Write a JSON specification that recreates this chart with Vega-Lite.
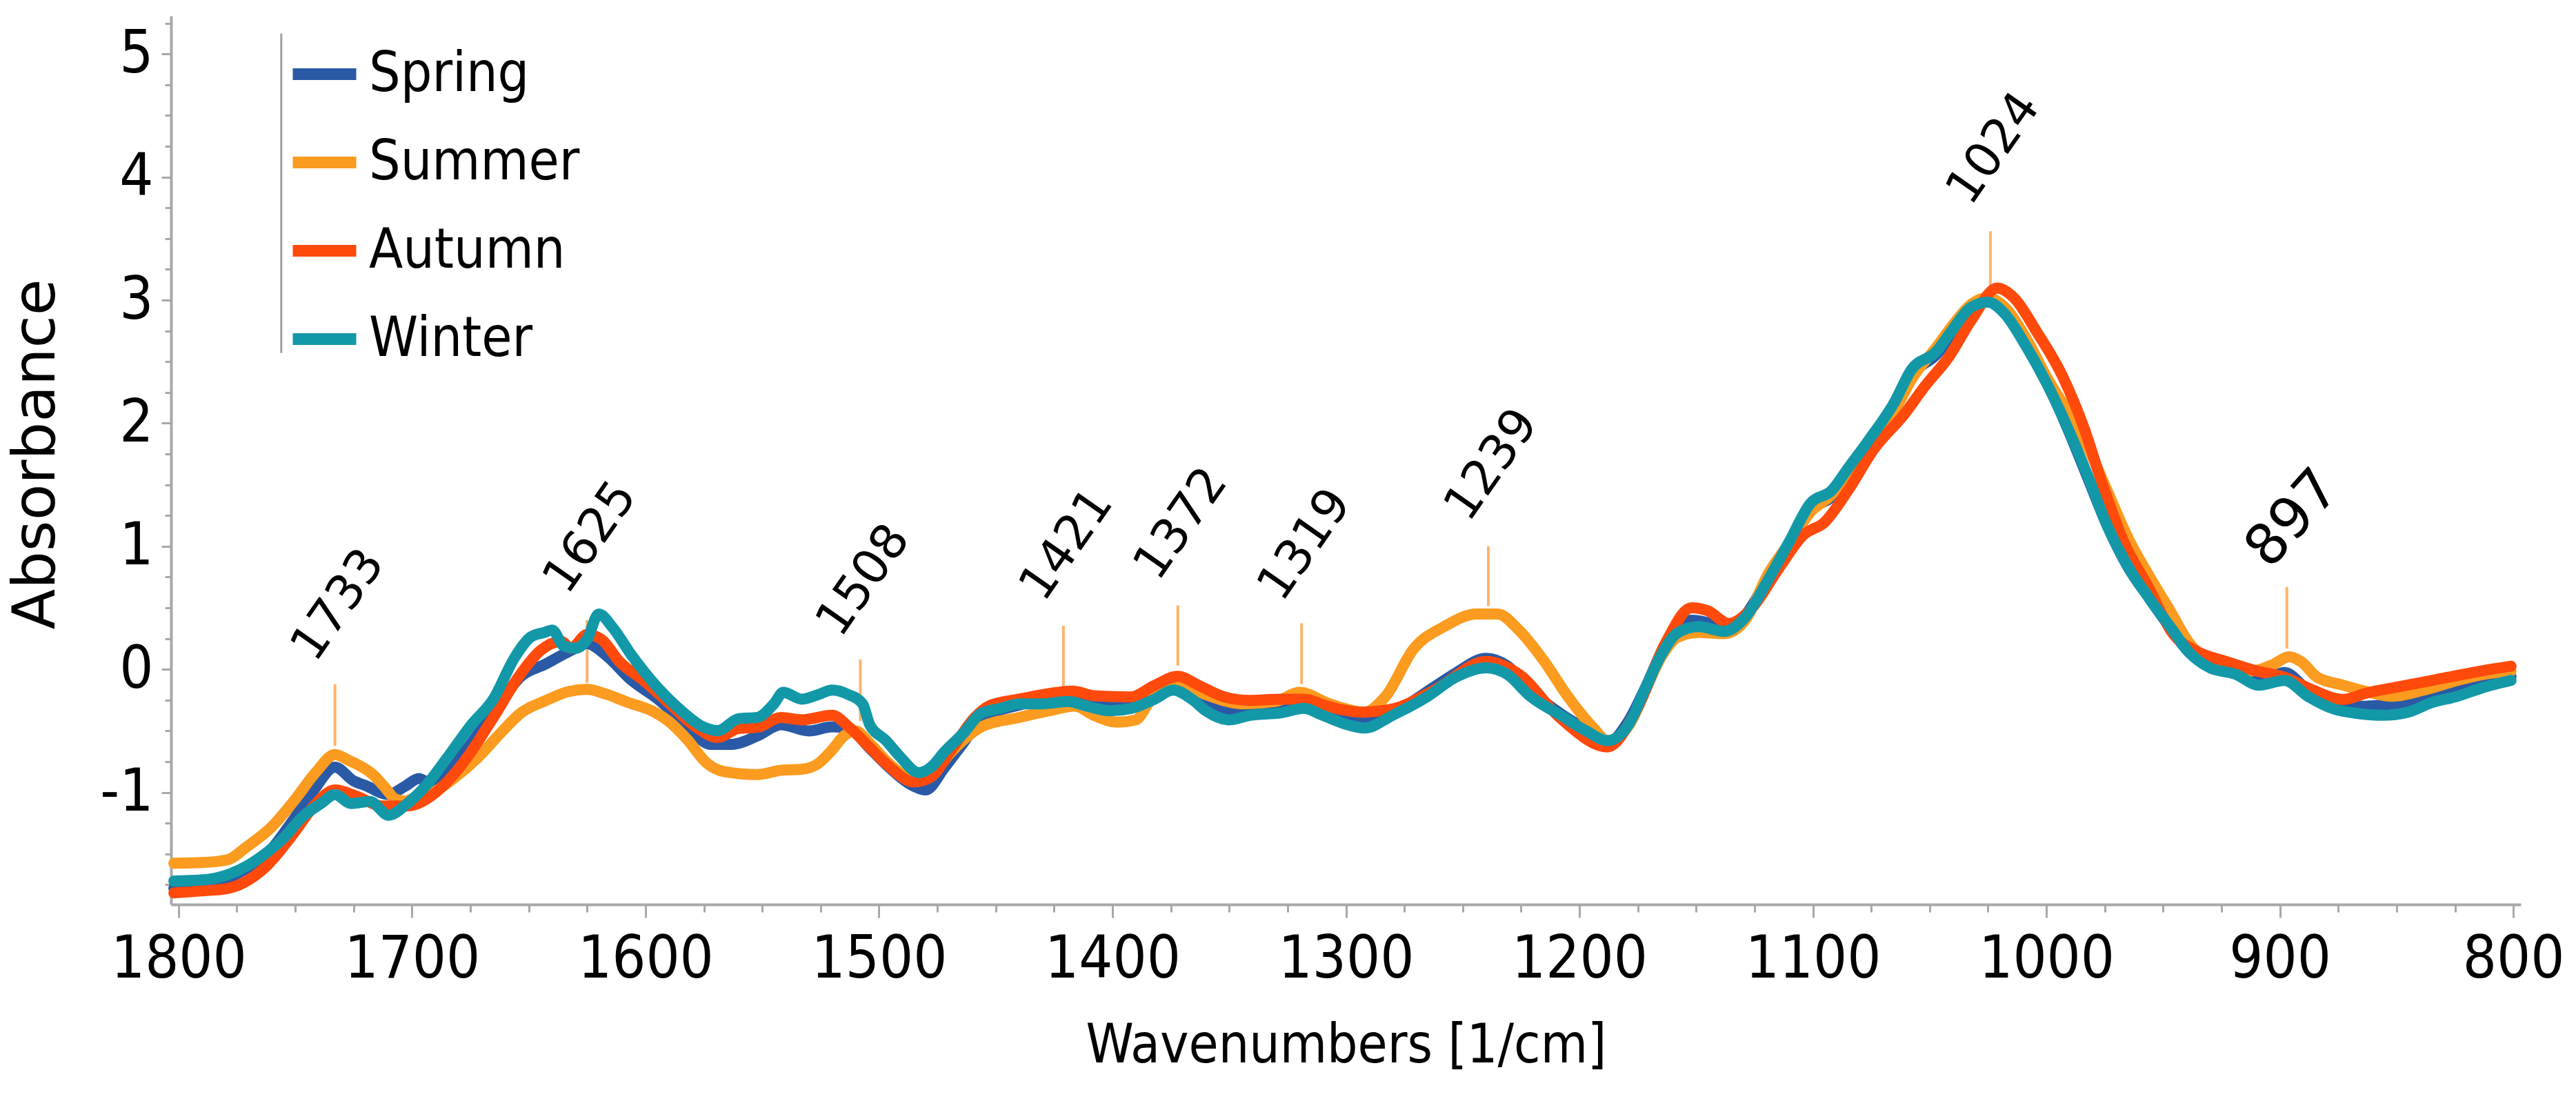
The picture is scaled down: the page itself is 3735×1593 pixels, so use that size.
{
  "$schema": "https://vega.github.io/schema/vega-lite/v6.json",
  "width": 3407,
  "height": 1288,
  "autosize": "none",
  "padding": {"left": 248, "top": 23, "right": 80, "bottom": 282},
  "background": "white",
  "datasets": {
    "spectra": [
      {"season":"Spring","wn":1802,"abs":-1.78},{"season":"Spring","wn":1787,"abs":-1.76},{"season":"Spring","wn":1774,"abs":-1.65},{"season":"Spring","wn":1763,"abs":-1.52},{"season":"Spring","wn":1750,"abs":-1.2},{"season":"Spring","wn":1742,"abs":-0.98},{"season":"Spring","wn":1733,"abs":-0.795},{"season":"Spring","wn":1725,"abs":-0.906},{"season":"Spring","wn":1720,"abs":-0.943},{"season":"Spring","wn":1710,"abs":-1.017},{"season":"Spring","wn":1703,"abs":-0.95},{"season":"Spring","wn":1697,"abs":-0.887},{"season":"Spring","wn":1691,"abs":-0.943},{"season":"Spring","wn":1678,"abs":-0.683},{"season":"Spring","wn":1665,"abs":-0.348},{"season":"Spring","wn":1653,"abs":-0.051},{"season":"Spring","wn":1643,"abs":0.041},{"season":"Spring","wn":1632,"abs":0.153},{"season":"Spring","wn":1625,"abs":0.209},{"season":"Spring","wn":1617,"abs":0.116},{"season":"Spring","wn":1606,"abs":-0.088},{"season":"Spring","wn":1595,"abs":-0.237},{"season":"Spring","wn":1584,"abs":-0.423},{"season":"Spring","wn":1572,"abs":-0.609},{"season":"Spring","wn":1563,"abs":-0.609},{"season":"Spring","wn":1552,"abs":-0.54},{"season":"Spring","wn":1542,"abs":-0.45},{"season":"Spring","wn":1530,"abs":-0.5},{"season":"Spring","wn":1520,"abs":-0.466},{"season":"Spring","wn":1513,"abs":-0.48},{"season":"Spring","wn":1504,"abs":-0.64},{"season":"Spring","wn":1496,"abs":-0.79},{"season":"Spring","wn":1485,"abs":-0.95},{"season":"Spring","wn":1480,"abs":-0.98},{"season":"Spring","wn":1472,"abs":-0.8},{"season":"Spring","wn":1464,"abs":-0.6},{"season":"Spring","wn":1456,"abs":-0.4},{"season":"Spring","wn":1440,"abs":-0.29},{"season":"Spring","wn":1430,"abs":-0.25},{"season":"Spring","wn":1419,"abs":-0.24},{"season":"Spring","wn":1408,"abs":-0.27},{"season":"Spring","wn":1392,"abs":-0.29},{"season":"Spring","wn":1382,"abs":-0.2},{"season":"Spring","wn":1372,"abs":-0.12},{"season":"Spring","wn":1363,"abs":-0.2},{"season":"Spring","wn":1350,"abs":-0.33},{"season":"Spring","wn":1341,"abs":-0.33},{"season":"Spring","wn":1328,"abs":-0.3},{"season":"Spring","wn":1318,"abs":-0.29},{"season":"Spring","wn":1308,"abs":-0.35},{"season":"Spring","wn":1294,"abs":-0.42},{"season":"Spring","wn":1280,"abs":-0.35},{"season":"Spring","wn":1262,"abs":-0.14},{"season":"Spring","wn":1253,"abs":-0.03},{"season":"Spring","wn":1240,"abs":0.09},{"season":"Spring","wn":1231,"abs":0.03},{"season":"Spring","wn":1221,"abs":-0.17},{"season":"Spring","wn":1208,"abs":-0.36},{"season":"Spring","wn":1197,"abs":-0.49},{"season":"Spring","wn":1188,"abs":-0.6},{"season":"Spring","wn":1179,"abs":-0.42},{"season":"Spring","wn":1172,"abs":-0.16},{"season":"Spring","wn":1165,"abs":0.13},{"season":"Spring","wn":1158,"abs":0.32},{"season":"Spring","wn":1152,"abs":0.4},{"season":"Spring","wn":1145,"abs":0.38},{"season":"Spring","wn":1138,"abs":0.33},{"season":"Spring","wn":1129,"abs":0.44},{"season":"Spring","wn":1119,"abs":0.75},{"season":"Spring","wn":1110,"abs":1.02},{"season":"Spring","wn":1101,"abs":1.3},{"season":"Spring","wn":1092,"abs":1.4},{"season":"Spring","wn":1085,"abs":1.58},{"season":"Spring","wn":1076,"abs":1.82},{"season":"Spring","wn":1065,"abs":2.12},{"season":"Spring","wn":1058,"abs":2.38},{"season":"Spring","wn":1047,"abs":2.56},{"season":"Spring","wn":1041,"abs":2.7},{"season":"Spring","wn":1032,"abs":2.92},{"season":"Spring","wn":1025,"abs":3.0},{"season":"Spring","wn":1018,"abs":2.92},{"season":"Spring","wn":1009,"abs":2.66},{"season":"Spring","wn":1000,"abs":2.34},{"season":"Spring","wn":991,"abs":1.96},{"season":"Spring","wn":983,"abs":1.59},{"season":"Spring","wn":974,"abs":1.17},{"season":"Spring","wn":965,"abs":0.83},{"season":"Spring","wn":956,"abs":0.58},{"season":"Spring","wn":947,"abs":0.34},{"season":"Spring","wn":939,"abs":0.14},{"season":"Spring","wn":930,"abs":0.02},{"season":"Spring","wn":919,"abs":-0.03},{"season":"Spring","wn":909,"abs":-0.1},{"season":"Spring","wn":898,"abs":-0.025},{"season":"Spring","wn":888,"abs":-0.17},{"season":"Spring","wn":877,"abs":-0.28},{"season":"Spring","wn":866,"abs":-0.3},{"season":"Spring","wn":856,"abs":-0.29},{"season":"Spring","wn":845,"abs":-0.26},{"season":"Spring","wn":835,"abs":-0.2},{"season":"Spring","wn":824,"abs":-0.15},{"season":"Spring","wn":814,"abs":-0.1},{"season":"Spring","wn":801,"abs":-0.06},

      {"season":"Summer","wn":1802,"abs":-1.575},{"season":"Summer","wn":1790,"abs":-1.57},{"season":"Summer","wn":1779,"abs":-1.547},{"season":"Summer","wn":1771,"abs":-1.445},{"season":"Summer","wn":1760,"abs":-1.278},{"season":"Summer","wn":1750,"abs":-1.055},{"season":"Summer","wn":1741,"abs":-0.832},{"season":"Summer","wn":1733,"abs":-0.692},{"season":"Summer","wn":1727,"abs":-0.74},{"season":"Summer","wn":1723,"abs":-0.776},{"season":"Summer","wn":1717,"abs":-0.85},{"season":"Summer","wn":1712,"abs":-0.95},{"season":"Summer","wn":1707,"abs":-1.055},{"season":"Summer","wn":1703,"abs":-1.07},{"season":"Summer","wn":1699,"abs":-1.045},{"season":"Summer","wn":1691,"abs":-0.999},{"season":"Summer","wn":1681,"abs":-0.869},{"season":"Summer","wn":1672,"abs":-0.72},{"season":"Summer","wn":1662,"abs":-0.516},{"season":"Summer","wn":1653,"abs":-0.349},{"season":"Summer","wn":1643,"abs":-0.256},{"season":"Summer","wn":1633,"abs":-0.181},{"season":"Summer","wn":1625,"abs":-0.163},{"season":"Summer","wn":1617,"abs":-0.2},{"season":"Summer","wn":1608,"abs":-0.265},{"season":"Summer","wn":1596,"abs":-0.349},{"season":"Summer","wn":1590,"abs":-0.423},{"season":"Summer","wn":1582,"abs":-0.572},{"season":"Summer","wn":1574,"abs":-0.757},{"season":"Summer","wn":1566,"abs":-0.832},{"season":"Summer","wn":1552,"abs":-0.855},{"season":"Summer","wn":1542,"abs":-0.82},{"season":"Summer","wn":1533,"abs":-0.811},{"season":"Summer","wn":1526,"abs":-0.765},{"season":"Summer","wn":1520,"abs":-0.653},{"season":"Summer","wn":1515,"abs":-0.541},{"season":"Summer","wn":1510,"abs":-0.5},{"season":"Summer","wn":1504,"abs":-0.6},{"season":"Summer","wn":1496,"abs":-0.76},{"season":"Summer","wn":1485,"abs":-0.89},{"season":"Summer","wn":1478,"abs":-0.86},{"season":"Summer","wn":1469,"abs":-0.67},{"season":"Summer","wn":1463,"abs":-0.56},{"season":"Summer","wn":1456,"abs":-0.466},{"season":"Summer","wn":1440,"abs":-0.391},{"season":"Summer","wn":1427,"abs":-0.336},{"season":"Summer","wn":1416,"abs":-0.298},{"season":"Summer","wn":1408,"abs":-0.373},{"season":"Summer","wn":1398,"abs":-0.429},{"season":"Summer","wn":1390,"abs":-0.41},{"season":"Summer","wn":1384,"abs":-0.261},{"season":"Summer","wn":1372,"abs":-0.112},{"season":"Summer","wn":1360,"abs":-0.205},{"season":"Summer","wn":1344,"abs":-0.28},{"season":"Summer","wn":1330,"abs":-0.26},{"season":"Summer","wn":1320,"abs":-0.186},{"season":"Summer","wn":1307,"abs":-0.28},{"season":"Summer","wn":1292,"abs":-0.347},{"season":"Summer","wn":1283,"abs":-0.219},{"season":"Summer","wn":1271,"abs":0.167},{"season":"Summer","wn":1258,"abs":0.347},{"season":"Summer","wn":1244,"abs":0.45},{"season":"Summer","wn":1235,"abs":0.45},{"season":"Summer","wn":1226,"abs":0.321},{"season":"Summer","wn":1215,"abs":0.064},{"season":"Summer","wn":1205,"abs":-0.219},{"season":"Summer","wn":1194,"abs":-0.476},{"season":"Summer","wn":1188,"abs":-0.579},{"season":"Summer","wn":1179,"abs":-0.46},{"season":"Summer","wn":1172,"abs":-0.18},{"season":"Summer","wn":1165,"abs":0.1},{"season":"Summer","wn":1158,"abs":0.26},{"season":"Summer","wn":1149,"abs":0.3},{"season":"Summer","wn":1138,"abs":0.29},{"season":"Summer","wn":1129,"abs":0.4},{"season":"Summer","wn":1119,"abs":0.78},{"season":"Summer","wn":1110,"abs":1.03},{"season":"Summer","wn":1101,"abs":1.28},{"season":"Summer","wn":1092,"abs":1.42},{"season":"Summer","wn":1085,"abs":1.6},{"season":"Summer","wn":1076,"abs":1.8},{"season":"Summer","wn":1065,"abs":2.1},{"season":"Summer","wn":1058,"abs":2.35},{"season":"Summer","wn":1047,"abs":2.62},{"season":"Summer","wn":1040,"abs":2.8},{"season":"Summer","wn":1032,"abs":2.97},{"season":"Summer","wn":1025,"abs":3.02},{"season":"Summer","wn":1018,"abs":2.945},{"season":"Summer","wn":1009,"abs":2.7},{"season":"Summer","wn":1000,"abs":2.379},{"season":"Summer","wn":983,"abs":1.839},{"season":"Summer","wn":974,"abs":1.453},{"season":"Summer","wn":965,"abs":1.067},{"season":"Summer","wn":956,"abs":0.759},{"season":"Summer","wn":947,"abs":0.476},{"season":"Summer","wn":939,"abs":0.219},{"season":"Summer","wn":926,"abs":0.039},{"season":"Summer","wn":912,"abs":-0.013},{"season":"Summer","wn":903,"abs":0.039},{"season":"Summer","wn":896,"abs":0.103},{"season":"Summer","wn":891,"abs":0.064},{"season":"Summer","wn":884,"abs":-0.064},{"season":"Summer","wn":873,"abs":-0.128},{"season":"Summer","wn":863,"abs":-0.18},{"season":"Summer","wn":852,"abs":-0.219},{"season":"Summer","wn":838,"abs":-0.167},{"season":"Summer","wn":824,"abs":-0.09},{"season":"Summer","wn":812,"abs":-0.039},{"season":"Summer","wn":801,"abs":-0.013},

      {"season":"Autumn","wn":1802,"abs":-1.816},{"season":"Autumn","wn":1790,"abs":-1.8},{"season":"Autumn","wn":1779,"abs":-1.78},{"season":"Autumn","wn":1763,"abs":-1.61},{"season":"Autumn","wn":1750,"abs":-1.315},{"season":"Autumn","wn":1742,"abs":-1.11},{"season":"Autumn","wn":1733,"abs":-0.98},{"season":"Autumn","wn":1723,"abs":-1.036},{"season":"Autumn","wn":1713,"abs":-1.11},{"season":"Autumn","wn":1702,"abs":-1.11},{"season":"Autumn","wn":1691,"abs":-1.017},{"season":"Autumn","wn":1678,"abs":-0.757},{"season":"Autumn","wn":1665,"abs":-0.386},{"season":"Autumn","wn":1654,"abs":-0.051},{"season":"Autumn","wn":1645,"abs":0.153},{"season":"Autumn","wn":1636,"abs":0.227},{"season":"Autumn","wn":1632,"abs":0.172},{"season":"Autumn","wn":1625,"abs":0.283},{"season":"Autumn","wn":1619,"abs":0.246},{"season":"Autumn","wn":1611,"abs":0.06},{"season":"Autumn","wn":1601,"abs":-0.088},{"season":"Autumn","wn":1590,"abs":-0.274},{"season":"Autumn","wn":1579,"abs":-0.46},{"season":"Autumn","wn":1569,"abs":-0.553},{"season":"Autumn","wn":1560,"abs":-0.479},{"season":"Autumn","wn":1552,"abs":-0.47},{"season":"Autumn","wn":1542,"abs":-0.391},{"season":"Autumn","wn":1533,"abs":-0.41},{"season":"Autumn","wn":1520,"abs":-0.373},{"season":"Autumn","wn":1513,"abs":-0.466},{"season":"Autumn","wn":1504,"abs":-0.634},{"season":"Autumn","wn":1496,"abs":-0.783},{"season":"Autumn","wn":1485,"abs":-0.914},{"season":"Autumn","wn":1478,"abs":-0.877},{"season":"Autumn","wn":1469,"abs":-0.653},{"season":"Autumn","wn":1459,"abs":-0.391},{"season":"Autumn","wn":1453,"abs":-0.298},{"season":"Autumn","wn":1440,"abs":-0.242},{"season":"Autumn","wn":1430,"abs":-0.205},{"season":"Autumn","wn":1417,"abs":-0.177},{"season":"Autumn","wn":1408,"abs":-0.214},{"season":"Autumn","wn":1392,"abs":-0.224},{"season":"Autumn","wn":1382,"abs":-0.13},{"season":"Autumn","wn":1372,"abs":-0.056},{"season":"Autumn","wn":1363,"abs":-0.13},{"season":"Autumn","wn":1352,"abs":-0.224},{"season":"Autumn","wn":1341,"abs":-0.252},{"season":"Autumn","wn":1328,"abs":-0.242},{"season":"Autumn","wn":1318,"abs":-0.242},{"season":"Autumn","wn":1308,"abs":-0.298},{"season":"Autumn","wn":1301,"abs":-0.33},{"season":"Autumn","wn":1294,"abs":-0.347},{"season":"Autumn","wn":1280,"abs":-0.321},{"season":"Autumn","wn":1262,"abs":-0.167},{"season":"Autumn","wn":1240,"abs":0.064},{"season":"Autumn","wn":1226,"abs":-0.039},{"season":"Autumn","wn":1208,"abs":-0.399},{"season":"Autumn","wn":1188,"abs":-0.63},{"season":"Autumn","wn":1176,"abs":-0.347},{"season":"Autumn","wn":1163,"abs":0.219},{"season":"Autumn","wn":1152,"abs":0.501},{"season":"Autumn","wn":1145,"abs":0.476},{"season":"Autumn","wn":1136,"abs":0.373},{"season":"Autumn","wn":1126,"abs":0.501},{"season":"Autumn","wn":1115,"abs":0.81},{"season":"Autumn","wn":1104,"abs":1.093},{"season":"Autumn","wn":1095,"abs":1.196},{"season":"Autumn","wn":1085,"abs":1.453},{"season":"Autumn","wn":1074,"abs":1.787},{"season":"Autumn","wn":1061,"abs":2.07},{"season":"Autumn","wn":1052,"abs":2.302},{"season":"Autumn","wn":1042,"abs":2.533},{"season":"Autumn","wn":1032,"abs":2.842},{"season":"Autumn","wn":1021,"abs":3.099},{"season":"Autumn","wn":1014,"abs":3.022},{"season":"Autumn","wn":1004,"abs":2.739},{"season":"Autumn","wn":993,"abs":2.379},{"season":"Autumn","wn":984,"abs":1.968},{"season":"Autumn","wn":976,"abs":1.505},{"season":"Autumn","wn":967,"abs":1.042},{"season":"Autumn","wn":956,"abs":0.656},{"season":"Autumn","wn":946,"abs":0.296},{"season":"Autumn","wn":935,"abs":0.141},{"season":"Autumn","wn":923,"abs":0.064},{"season":"Autumn","wn":910,"abs":-0.013},{"season":"Autumn","wn":898,"abs":-0.064},{"season":"Autumn","wn":886,"abs":-0.167},{"season":"Autumn","wn":873,"abs":-0.244},{"season":"Autumn","wn":863,"abs":-0.193},{"season":"Autumn","wn":849,"abs":-0.141},{"season":"Autumn","wn":835,"abs":-0.09},{"season":"Autumn","wn":821,"abs":-0.039},{"season":"Autumn","wn":810,"abs":0.0},{"season":"Autumn","wn":801,"abs":0.026},

      {"season":"Winter","wn":1802,"abs":-1.72},{"season":"Winter","wn":1787,"abs":-1.705},{"season":"Winter","wn":1774,"abs":-1.63},{"season":"Winter","wn":1763,"abs":-1.5},{"season":"Winter","wn":1755,"abs":-1.37},{"season":"Winter","wn":1747,"abs":-1.2},{"season":"Winter","wn":1739,"abs":-1.09},{"season":"Winter","wn":1733,"abs":-1.017},{"season":"Winter","wn":1726,"abs":-1.09},{"season":"Winter","wn":1718,"abs":-1.073},{"season":"Winter","wn":1710,"abs":-1.185},{"season":"Winter","wn":1702,"abs":-1.09},{"season":"Winter","wn":1694,"abs":-0.943},{"season":"Winter","wn":1685,"abs":-0.72},{"season":"Winter","wn":1675,"abs":-0.46},{"season":"Winter","wn":1665,"abs":-0.237},{"season":"Winter","wn":1656,"abs":0.097},{"season":"Winter","wn":1649,"abs":0.265},{"season":"Winter","wn":1643,"abs":0.302},{"season":"Winter","wn":1640,"abs":0.32},{"season":"Winter","wn":1635,"abs":0.19},{"season":"Winter","wn":1630,"abs":0.172},{"season":"Winter","wn":1625,"abs":0.246},{"season":"Winter","wn":1620,"abs":0.45},{"season":"Winter","wn":1614,"abs":0.339},{"season":"Winter","wn":1606,"abs":0.116},{"season":"Winter","wn":1595,"abs":-0.144},{"season":"Winter","wn":1585,"abs":-0.33},{"season":"Winter","wn":1576,"abs":-0.46},{"season":"Winter","wn":1569,"abs":-0.497},{"season":"Winter","wn":1560,"abs":-0.4},{"season":"Winter","wn":1552,"abs":-0.39},{"season":"Winter","wn":1545,"abs":-0.28},{"season":"Winter","wn":1541,"abs":-0.186},{"season":"Winter","wn":1533,"abs":-0.242},{"season":"Winter","wn":1526,"abs":-0.205},{"season":"Winter","wn":1520,"abs":-0.168},{"season":"Winter","wn":1513,"abs":-0.205},{"season":"Winter","wn":1507,"abs":-0.28},{"season":"Winter","wn":1504,"abs":-0.447},{"season":"Winter","wn":1497,"abs":-0.578},{"season":"Winter","wn":1491,"abs":-0.709},{"season":"Winter","wn":1483,"abs":-0.839},{"season":"Winter","wn":1477,"abs":-0.783},{"season":"Winter","wn":1472,"abs":-0.671},{"season":"Winter","wn":1464,"abs":-0.522},{"season":"Winter","wn":1456,"abs":-0.354},{"season":"Winter","wn":1448,"abs":-0.317},{"season":"Winter","wn":1440,"abs":-0.28},{"season":"Winter","wn":1430,"abs":-0.28},{"season":"Winter","wn":1419,"abs":-0.261},{"season":"Winter","wn":1411,"abs":-0.298},{"season":"Winter","wn":1401,"abs":-0.336},{"season":"Winter","wn":1392,"abs":-0.317},{"season":"Winter","wn":1382,"abs":-0.242},{"season":"Winter","wn":1374,"abs":-0.168},{"season":"Winter","wn":1366,"abs":-0.242},{"season":"Winter","wn":1360,"abs":-0.336},{"season":"Winter","wn":1350,"abs":-0.41},{"season":"Winter","wn":1341,"abs":-0.373},{"season":"Winter","wn":1328,"abs":-0.354},{"season":"Winter","wn":1318,"abs":-0.317},{"season":"Winter","wn":1310,"abs":-0.373},{"season":"Winter","wn":1301,"abs":-0.44},{"season":"Winter","wn":1292,"abs":-0.476},{"season":"Winter","wn":1280,"abs":-0.373},{"season":"Winter","wn":1265,"abs":-0.219},{"season":"Winter","wn":1253,"abs":-0.064},{"season":"Winter","wn":1240,"abs":0.013},{"season":"Winter","wn":1231,"abs":-0.039},{"season":"Winter","wn":1221,"abs":-0.219},{"season":"Winter","wn":1208,"abs":-0.373},{"season":"Winter","wn":1197,"abs":-0.501},{"season":"Winter","wn":1188,"abs":-0.579},{"season":"Winter","wn":1179,"abs":-0.45},{"season":"Winter","wn":1172,"abs":-0.167},{"season":"Winter","wn":1165,"abs":0.116},{"season":"Winter","wn":1158,"abs":0.296},{"season":"Winter","wn":1149,"abs":0.347},{"season":"Winter","wn":1138,"abs":0.309},{"season":"Winter","wn":1129,"abs":0.424},{"season":"Winter","wn":1119,"abs":0.733},{"season":"Winter","wn":1110,"abs":1.042},{"season":"Winter","wn":1101,"abs":1.35},{"season":"Winter","wn":1092,"abs":1.453},{"season":"Winter","wn":1085,"abs":1.633},{"season":"Winter","wn":1076,"abs":1.865},{"season":"Winter","wn":1065,"abs":2.173},{"season":"Winter","wn":1058,"abs":2.43},{"season":"Winter","wn":1047,"abs":2.585},{"season":"Winter","wn":1041,"abs":2.739},{"season":"Winter","wn":1032,"abs":2.945},{"season":"Winter","wn":1025,"abs":2.983},{"season":"Winter","wn":1018,"abs":2.893},{"season":"Winter","wn":1009,"abs":2.636},{"season":"Winter","wn":1000,"abs":2.328},{"season":"Winter","wn":991,"abs":1.968},{"season":"Winter","wn":983,"abs":1.608},{"season":"Winter","wn":974,"abs":1.17},{"season":"Winter","wn":965,"abs":0.836},{"season":"Winter","wn":956,"abs":0.579},{"season":"Winter","wn":947,"abs":0.347},{"season":"Winter","wn":939,"abs":0.141},{"season":"Winter","wn":930,"abs":0.013},{"season":"Winter","wn":919,"abs":-0.039},{"season":"Winter","wn":909,"abs":-0.128},{"season":"Winter","wn":898,"abs":-0.09},{"season":"Winter","wn":888,"abs":-0.219},{"season":"Winter","wn":877,"abs":-0.321},{"season":"Winter","wn":866,"abs":-0.36},{"season":"Winter","wn":856,"abs":-0.373},{"season":"Winter","wn":845,"abs":-0.347},{"season":"Winter","wn":835,"abs":-0.27},{"season":"Winter","wn":824,"abs":-0.219},{"season":"Winter","wn":814,"abs":-0.154},{"season":"Winter","wn":801,"abs":-0.09}
    ],
    "peaks": [
      {"label":"1733","wn":1733,"lo":-0.62,"hi":-0.12,"ty":0.48},
      {"label":"1625","wn":1625,"lo":-0.11,"hi":0.4,"ty":1.03},
      {"label":"1508","wn":1508,"lo":-0.42,"hi":0.08,"ty":0.68},
      {"label":"1421","wn":1421,"lo":-0.14,"hi":0.355,"ty":0.97},
      {"label":"1372","wn":1372,"lo":0.03,"hi":0.52,"ty":1.14},
      {"label":"1319","wn":1319,"lo":-0.12,"hi":0.375,"ty":0.97},
      {"label":"1239","wn":1239,"lo":0.515,"hi":1.0,"ty":1.62},
      {"label":"1024","wn":1024,"lo":3.1,"hi":3.56,"ty":4.19},
      {"label":"897","wn":897,"lo":0.17,"hi":0.67,"ty":1.17}
    ],
    "divider": [
      {"wn":1756,"lo":2.57,"hi":5.165}
    ]
  },
  "resolve": {
    "scale": {"x": "shared", "y": "shared"},
    "axis": {"x": "independent", "y": "independent"}
  },
  "layer": [
    {
      "data": {"name": "peaks"},
      "mark": {"type": "rule", "color": "#fdb46a", "strokeWidth": 4},
      "encoding": {
        "x": {
          "field": "wn", "type": "quantitative",
          "scale": {"domain": [796.8, 1803.2], "reverse": true, "nice": false, "zero": false},
          "axis": {
            "orient": "bottom", "domain": false, "labels": false, "grid": false, "title": null,
            "values": [825, 850, 875, 925, 950, 975, 1025, 1050, 1075, 1125, 1150, 1175, 1225, 1250, 1275, 1325, 1350, 1375, 1425, 1450, 1475, 1525, 1550, 1575, 1625, 1650, 1675, 1725, 1750, 1775],
            "tickSize": 11, "tickWidth": 3, "tickColor": "#a8a8a8"
          }
        },
        "y": {
          "field": "lo", "type": "quantitative",
          "scale": {"domain": [-1.91, 5.31], "nice": false, "zero": false},
          "axis": {
            "orient": "left", "domain": false, "labels": false, "grid": false, "title": null,
            "values": [-1.75, -1.5, -1.25, -0.75, -0.5, -0.25, 0.25, 0.5, 0.75, 1.25, 1.5, 1.75, 2.25, 2.5, 2.75, 3.25, 3.5, 3.75, 4.25, 4.5, 4.75, 5.25],
            "tickSize": 9, "tickWidth": 3, "tickColor": "#a8a8a8"
          }
        },
        "y2": {"field": "hi"}
      }
    },
    {
      "data": {"name": "peaks"},
      "transform": [{"filter": "datum.label != '897'"}],
      "mark": {"type": "text", "angle": -55, "dx": 9, "align": "center", "baseline": "middle", "font": "DejaVu Sans", "fontSize": 70, "color": "black"},
      "encoding": {
        "x": {"field": "wn", "type": "quantitative", "axis": null},
        "y": {"field": "ty", "type": "quantitative", "axis": null},
        "text": {"field": "label"}
      }
    },
    {
      "data": {"name": "peaks"},
      "transform": [{"filter": "datum.label == '897'"}],
      "mark": {"type": "text", "angle": -48, "dx": 13, "align": "center", "baseline": "middle", "font": "DejaVu Sans", "fontSize": 82, "color": "black"},
      "encoding": {
        "x": {"field": "wn", "type": "quantitative", "axis": null},
        "y": {"field": "ty", "type": "quantitative", "axis": null},
        "text": {"field": "label"}
      }
    },
    {
      "data": {"name": "divider"},
      "mark": {"type": "rule", "color": "#a0a0a0", "strokeWidth": 3},
      "encoding": {
        "x": {"field": "wn", "type": "quantitative", "axis": null},
        "y": {"field": "lo", "type": "quantitative", "axis": null},
        "y2": {"field": "hi"}
      }
    },
    {
      "data": {"name": "spectra"},
      "mark": {"type": "line", "strokeWidth": 16, "strokeJoin": "round", "strokeCap": "round", "interpolate": "monotone"},
      "encoding": {
        "x": {
          "field": "wn", "type": "quantitative",
          "scale": {"domain": [796.8, 1803.2], "reverse": true, "nice": false, "zero": false},
          "axis": {
            "orient": "bottom", "grid": false,
            "values": [800, 900, 1000, 1100, 1200, 1300, 1400, 1500, 1600, 1700, 1800],
            "format": "d", "labelLimit": 0,
            "title": "Wavenumbers [1/cm]",
            "domainColor": "#a8a8a8", "domainWidth": 4,
            "tickColor": "#a8a8a8", "tickWidth": 3, "tickSize": 19,
            "labelFont": "DejaVu Sans Condensed", "labelFontSize": 86, "labelColor": "black", "labelPadding": 18,
            "titleFont": "DejaVu Sans Condensed", "titleFontSize": 78, "titleFontWeight": "normal", "titleColor": "black", "titlePadding": 44
          }
        },
        "y": {
          "field": "abs", "type": "quantitative",
          "scale": {"domain": [-1.91, 5.31], "nice": false, "zero": false},
          "axis": {
            "orient": "left", "grid": false,
            "values": [-1, 0, 1, 2, 3, 4, 5],
            "labelExpr": "datum.value == -1 ? '-1\u00a0\u00a0' : datum.label",
            "title": "Absorbance",
            "domainColor": "#a8a8a8", "domainWidth": 4,
            "tickColor": "#a8a8a8", "tickWidth": 3, "tickSize": 14,
            "labelFont": "DejaVu Sans Condensed", "labelFontSize": 86, "labelColor": "black", "labelPadding": 12,
            "titleFont": "DejaVu Sans", "titleFontSize": 86, "titleFontWeight": "normal", "titleColor": "black",
            "titleAngle": -90, "titleX": -196, "titleY": 635, "titleAlign": "center", "titleBaseline": "middle"
          }
        },
        "color": {
          "field": "season", "type": "nominal",
          "scale": {"domain": ["Spring", "Summer", "Autumn", "Winter"], "range": ["#2a5aa6", "#fb9b1f", "#ff4a0c", "#1398a8"]},
          "legend": {
            "orient": "none", "legendX": 168, "legendY": 30, "title": null, "padding": 0,
            "symbolType": "stroke", "symbolSize": 8464, "symbolStrokeWidth": 17,
            "labelFont": "DejaVu Sans Condensed", "labelFontSize": 80, "labelColor": "black", "labelOffset": 10, "labelLimit": 0,
            "rowPadding": 33
          }
        }
      }
    }
  ],
  "config": {
    "view": {"stroke": null}
  }
}
